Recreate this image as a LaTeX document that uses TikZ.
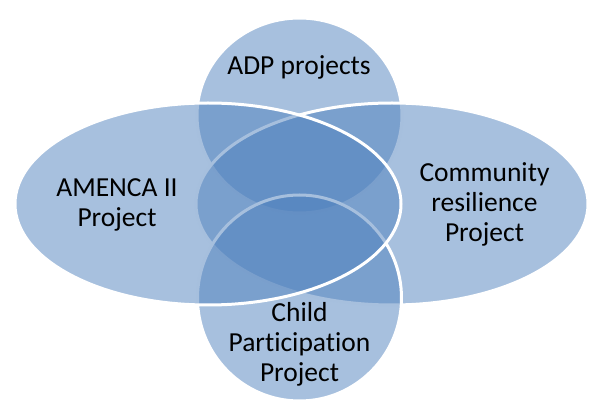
\documentclass[tikz,border=0pt]{standalone}
\usepackage{fontspec}
\setmainfont{Carlito}[Ligatures=NoCommon]
\usepackage{xcolor}
\definecolor{accent}{RGB}{79,129,189}

\begin{document}
\begin{tikzpicture}[x=1pt,y=-1pt,
  venn/.style={draw=white,line width=3pt,fill=accent,fill opacity=0.5},
  setlabel/.style={align=center,anchor=base,inner sep=0pt,font=\fontsize{27.5}{30}\selectfont}]
\useasboundingbox (0,0) rectangle (589,403);

%sets, back to front
\draw[venn] (299.5,115.5) ellipse [x radius=102.5pt,y radius=97.5pt];
\draw[venn] (392,204) ellipse [x radius=196pt,y radius=101pt];
\draw[venn] (299.5,298) ellipse [x radius=102pt,y radius=103pt];
\draw[venn] (208,204) ellipse [x radius=193pt,y radius=101pt];

%labels (anchored at the last baseline)
\node[setlabel] (adp) at (299,75) {ADP projects};
\node[setlabel] (amenca) at (117,226.7) {AMENCA II\\Project};
\node[setlabel] (community) at (484.5,241.7) {Community\\resilience\\Project};
\node[setlabel] (child) at (299.5,381.7) {Child\\Participation\\Project};
\end{tikzpicture}
\end{document}
